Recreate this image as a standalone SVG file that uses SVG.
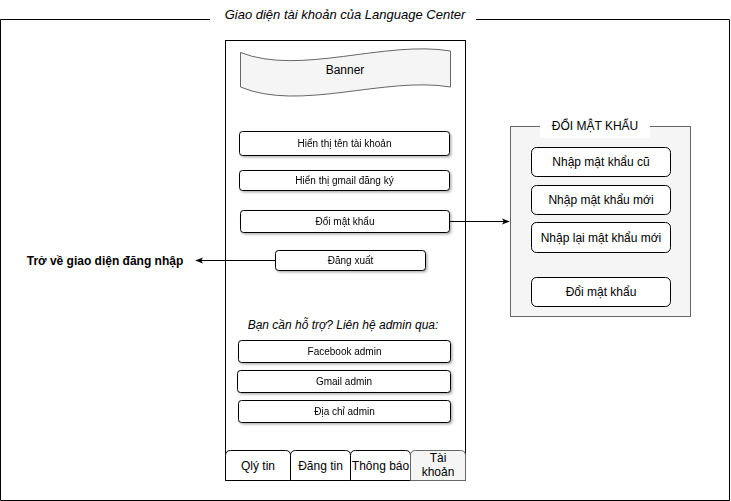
<svg xmlns="http://www.w3.org/2000/svg" width="731" height="501" viewBox="0 0 731 501">
<defs>
<style>
text{font-family:"Liberation Sans",Arial,sans-serif;fill:#000;text-anchor:middle;dominant-baseline:central}
.s10{font-size:10px}.s12{font-size:12px}
.btn{fill:#fff;stroke:#000;stroke-width:1}
.pbtn{fill:#fff;stroke:#000;stroke-width:1}
.line{stroke:#000;stroke-width:1;fill:none}
</style>
<filter id="sh" x="-10%" y="-20%" width="130%" height="160%">
<feDropShadow dx="1.5" dy="1.5" stdDeviation="0.8" flood-color="#000" flood-opacity="0.3"/>
</filter>
<marker id="arr" viewBox="0 0 10 10" refX="9" refY="5" markerWidth="8" markerHeight="8" markerUnits="userSpaceOnUse" orient="auto">
<path d="M0,1 L10,5 L0,9 L2.5,5 Z" fill="#000"/>
</marker>
</defs>
<rect width="731" height="501" fill="#fff"/>
<g id="frame">
<path class="line" d="M210,19.5 H0.5 V500.5 H729.5 V19.5 H476"/>
<text x="345" y="14" font-size="13" font-style="italic">Giao diện tài khoản của Language Center</text>
</g>
<g id="phone">
<rect x="225.5" y="40.5" width="240" height="440" fill="#fff" stroke="#000"/>
</g>
<g id="banner">
<path d="M240.5,52.5 C300,76 385,40 450.5,51 L450.5,87 C385,76 300,112 240.5,87 Z" fill="#f5f5f5" stroke="#666"/>
<text x="345" y="70" class="s12">Banner</text>
</g>
<g id="ten-tai-khoan" filter="url(#sh)">
<rect class="btn" x="239.5" y="131.5" width="210" height="24" rx="3"/>
<text x="344.5" y="143.5" class="s10">Hiển thị tên tài khoản</text>
</g>
<g id="gmail-dang-ky" filter="url(#sh)">
<rect class="btn" x="239.5" y="170.5" width="210" height="20" rx="3"/>
<text x="344.5" y="180.5" class="s10">Hiển thị gmail đăng ký</text>
</g>
<g id="doi-mat-khau" filter="url(#sh)">
<rect class="btn" x="240.5" y="210.5" width="209" height="22" rx="3"/>
<text x="345" y="221.5" class="s10">Đổi mật khẩu</text>
</g>
<g id="dang-xuat" filter="url(#sh)">
<rect class="btn" x="275.5" y="250.5" width="150" height="20" rx="3"/>
<text x="350.5" y="260.5" class="s10">Đăng xuất</text>
</g>
<g id="ho-tro">
<text x="343" y="325" class="s12" font-style="italic">Bạn cần hỗ trợ? Liên hệ admin qua:</text>
</g>
<g id="facebook-admin" filter="url(#sh)">
<rect class="btn" x="238.5" y="340.5" width="212" height="22" rx="3"/>
<text x="344.5" y="351.5" class="s10">Facebook admin</text>
</g>
<g id="gmail-admin" filter="url(#sh)">
<rect class="btn" x="237.5" y="370.5" width="213" height="22" rx="3"/>
<text x="344" y="381.5" class="s10">Gmail admin</text>
</g>
<g id="dia-chi-admin" filter="url(#sh)">
<rect class="btn" x="238.5" y="400.5" width="212" height="22" rx="3"/>
<text x="344.5" y="411.5" class="s10">Địa chỉ admin</text>
</g>
<g id="tab-qly-tin">
<path d="M225.5,480.5 V455.5 Q225.5,450.5 230.5,450.5 H285.5 Q290.5,450.5 290.5,455.5 V480.5 Z" fill="#fff" stroke="#000"/>
<text x="258" y="465.5" class="s12">Qlý tin</text>
</g>
<g id="tab-dang-tin">
<path d="M290.5,480.5 V455.5 Q290.5,450.5 295.5,450.5 H345.5 Q350.5,450.5 350.5,455.5 V480.5 Z" fill="#fff" stroke="#000"/>
<text x="320.5" y="465.5" class="s12">Đăng tin</text>
</g>
<g id="tab-thong-bao">
<path d="M350.5,480.5 V455.5 Q350.5,450.5 355.5,450.5 H405.5 Q410.5,450.5 410.5,455.5 V480.5 Z" fill="#fff" stroke="#000"/>
<text x="380.5" y="465.5" class="s12">Thông báo</text>
</g>
<g id="tab-tai-khoan">
<path d="M410.5,480.5 V455.5 Q410.5,450.5 415.5,450.5 H460.5 Q465.5,450.5 465.5,455.5 V480.5 Z" fill="#f5f5f5" stroke="#666"/>
<text x="438" y="458" class="s12">Tài</text>
<text x="438" y="472" class="s12">khoản</text>
</g>
<g id="panel-doi-mat-khau">
<rect x="510.5" y="126.5" width="180" height="190" fill="#f5f5f5" stroke="#666"/>
<rect x="540" y="114" width="110" height="24" fill="#fff"/>
<text x="595" y="126" class="s12">ĐỔI MẬT KHẨU</text>
</g>
<g id="nhap-cu">
<rect class="pbtn" x="531.5" y="147.5" width="139" height="29" rx="5"/>
<text x="601" y="162" class="s12">Nhập mật khẩu cũ</text>
</g>
<g id="nhap-moi">
<rect class="pbtn" x="531.5" y="185.5" width="139" height="29" rx="5"/>
<text x="601" y="200" class="s12">Nhập mật khẩu mới</text>
</g>
<g id="nhap-lai">
<rect class="pbtn" x="531.5" y="222.5" width="139" height="30" rx="5"/>
<text x="601" y="237.5" class="s12">Nhập lại mật khẩu mới</text>
</g>
<g id="btn-doi">
<rect class="pbtn" x="531.5" y="277.5" width="139" height="29" rx="5"/>
<text x="601" y="292" class="s12">Đổi mật khẩu</text>
</g>
<g id="tro-ve">
<text x="105" y="261" class="s12" font-weight="bold">Trở về giao diện đăng nhập</text>
</g>
<g id="connectors">
<path class="line" d="M449.5,221.5 H509" marker-end="url(#arr)"/>
<path class="line" d="M275.5,260.5 H196" marker-end="url(#arr)"/>
</g>
</svg>
